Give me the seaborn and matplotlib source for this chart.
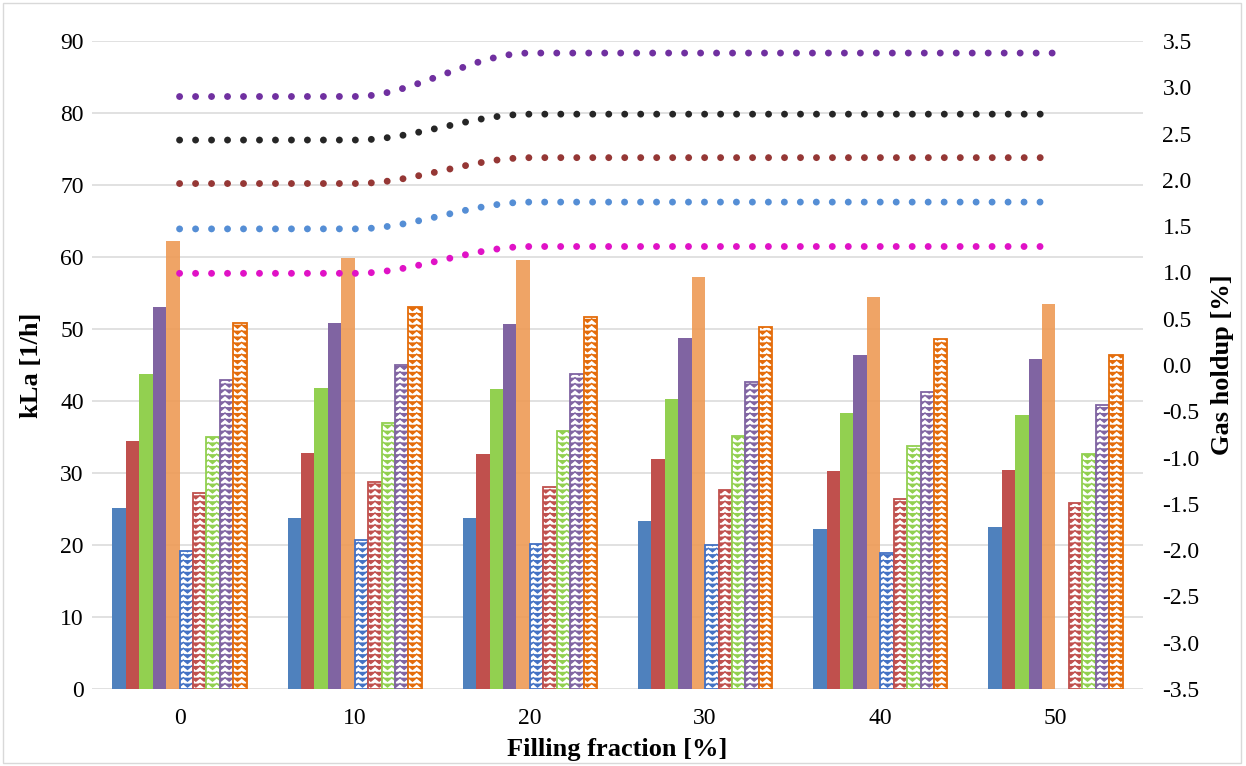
import warnings
import numpy as np
import pandas as pd
import matplotlib
matplotlib.use("Agg")
import matplotlib.pyplot as plt
import matplotlib.hatch as mhatch
from matplotlib.path import Path
from matplotlib.ticker import FormatStrFormatter
from matplotlib.patches import Rectangle
import seaborn as sns

warnings.filterwarnings("ignore")

# ---------------- data ----------------
filling = ["0", "10", "20", "30", "40", "50"]

# kLa [1/h], first set (solid bars)
kla_a1 = [25.2, 23.8, 23.8, 23.4, 22.2, 22.5]
kla_a2 = [34.4, 32.8, 32.7, 31.9, 30.3, 30.4]
kla_a3 = [43.7, 41.8, 41.7, 40.3, 38.4, 38.1]
kla_a4 = [53.0, 50.9, 50.7, 48.8, 46.4, 45.9]
kla_a5 = [62.2, 59.9, 59.6, 57.2, 54.5, 53.5]

# kLa [1/h], second set (patterned bars)
kla_b1 = [19.2, 20.7, 20.2, 20.0, 18.9, np.nan]
kla_b2 = [27.2, 28.8, 28.0, 27.6, 26.4, 25.8]
kla_b3 = [35.0, 37.0, 35.9, 35.2, 33.8, 32.6]
kla_b4 = [42.9, 45.0, 43.7, 42.7, 41.2, 39.5]
kla_b5 = [50.9, 53.1, 51.6, 50.3, 48.6, 46.4]

# gas holdup [%]
holdup_1 = [2.90, 2.90, 3.37, 3.37, 3.37, 3.37]
holdup_2 = [2.43, 2.43, 2.71, 2.71, 2.71, 2.71]
holdup_3 = [1.96, 1.96, 2.24, 2.24, 2.24, 2.24]
holdup_4 = [1.47, 1.47, 1.76, 1.76, 1.76, 1.76]
holdup_5 = [0.99, 0.99, 1.28, 1.28, 1.28, 1.28]

series_a = ["A1", "A2", "A3", "A4", "A5"]
series_b = ["B1", "B2", "B3", "B4", "B5"]
values_a = [kla_a1, kla_a2, kla_a3, kla_a4, kla_a5]
values_b = [kla_b1, kla_b2, kla_b3, kla_b4, kla_b5]
holdups = [holdup_1, holdup_2, holdup_3, holdup_4, holdup_5]

solid_colors = ["#4F81BD", "#C0504D", "#92D050", "#8064A2", "#EE9A55"]
pattern_colors = ["#4472C4", "#C0504D", "#92D050", "#8064A2", "#E46C0A"]
line_colors = ["#7030A0", "#262626", "#953735", "#558ED5", "#E012C6"]


# ---------------- zig-zag hatch ----------------
class ZigZagHatch(mhatch.HatchPatternBase):
    def __init__(self, hatch, density):
        n = hatch.count("z")
        self.rows = 17 * n
        self.cols = 12
        self.num_vertices = self.rows * (2 * self.cols + 1)

    def set_vertices_and_codes(self, vertices, codes):
        k = 0
        amp = 0.0175
        for r in range(self.rows):
            y = (r + 0.5) / self.rows
            for j in range(2 * self.cols + 1):
                x = j / (2 * self.cols)
                vertices[k] = (x, y + (amp if j % 2 == 0 else -amp))
                codes[k] = Path.MOVETO if j == 0 else Path.LINETO
                k += 1


mhatch._hatch_types.append(ZigZagHatch)


def smooth_curve(xs, ys, n=40):
    """Shape-preserving cubic Hermite curve through every point."""
    xs = np.asarray(xs, float)
    ys = np.asarray(ys, float)
    h = np.diff(xs)
    delta = np.diff(ys) / h
    m = len(xs)
    d = np.zeros(m)
    for k in range(1, m - 1):
        if delta[k - 1] * delta[k] > 0:
            d[k] = 2.0 / (1.0 / delta[k - 1] + 1.0 / delta[k])
    d[0] = 0.0 if delta[0] == 0 else delta[0]
    d[-1] = 0.0 if delta[-1] == 0 else delta[-1]
    px, py = [], []
    for i in range(m - 1):
        t = np.linspace(0, 1, n, endpoint=(i == m - 2))
        h00 = 2 * t ** 3 - 3 * t ** 2 + 1
        h10 = t ** 3 - 2 * t ** 2 + t
        h01 = -2 * t ** 3 + 3 * t ** 2
        h11 = t ** 3 - t ** 2
        px.append(xs[i] + t * h[i])
        py.append(h00 * ys[i] + h10 * h[i] * d[i] + h01 * ys[i + 1] + h11 * h[i] * d[i + 1])
    return np.concatenate(px), np.concatenate(py)


# ---------------- styling ----------------
sns.set_theme(style="white")
plt.rcParams["font.family"] = ["Liberation Serif", "DejaVu Serif"]
plt.rcParams["axes.unicode_minus"] = False
plt.rcParams["hatch.linewidth"] = 1.0
plt.rcParams["text.color"] = "black"
plt.rcParams["axes.labelcolor"] = "black"

W, H, DPI = 1246, 766, 100
fig = plt.figure(figsize=(W / DPI, H / DPI), dpi=DPI)
fig.patch.set_facecolor("white")

x0, x1, y0, y1 = 92, 1143, 41, 689
ax = fig.add_axes([x0 / W, 1 - y1 / H, (x1 - x0) / W, (y1 - y0) / H])

rows = []
for name, vals in zip(series_a + series_b, values_a + values_b):
    for f, v in zip(filling, vals):
        rows.append({"filling": f, "series": name, "kla": v})
df = pd.DataFrame(rows)

sns.barplot(data=df, x="filling", y="kla", hue="series", order=filling,
            hue_order=series_a + series_b, width=0.766, gap=0, errorbar=None,
            legend=False, ax=ax)

for idx, cont in enumerate(ax.containers):
    for bar in cont:
        if idx < 5:
            bar.set_facecolor(solid_colors[idx])
            bar.set_edgecolor("none")
            bar.set_linewidth(0)
            if idx == 4:
                bar.set_alpha(0.9)
        else:
            c = pattern_colors[idx - 5]
            bar.set_facecolor("white")
            bar.set_edgecolor(c)
            bar.set_linewidth(1.3)
            bar.set_hatch("z")
            if hasattr(bar, "set_hatchcolor"):
                bar.set_hatchcolor(c)

ax.set_xlim(-0.5, 5.5)
ax.set_ylim(0, 90)
ax.set_yticks(np.arange(0, 91, 10))
ax.set_axisbelow(True)
ax.grid(axis="y", color="#D9D9D9", linewidth=1.1)
ax.grid(axis="x", visible=False)
for s in ax.spines.values():
    s.set_visible(False)
ax.tick_params(axis="both", length=0, labelsize=17, colors="black")
ax.tick_params(axis="x", pad=14)
ax.tick_params(axis="y", pad=6)
ax.set_xlabel("Filling fraction [%]", fontsize=19, fontweight="bold", labelpad=6, color="black")
ax.set_ylabel("kLa [1/h]", fontsize=19, fontweight="bold", labelpad=12, color="black")

# ---------------- gas holdup (secondary axis) ----------------
ax2 = ax.twinx()
ax2.set_ylim(-3.5, 3.5)
ax2.set_yticks(np.arange(-3.5, 3.51, 0.5))
ax2.yaxis.set_major_formatter(FormatStrFormatter("%.1f"))
ax2.grid(False)
for s in ax2.spines.values():
    s.set_visible(False)
ax2.tick_params(axis="y", length=0, labelsize=17, pad=14, colors="black")
ax2.set_ylabel("Gas holdup [%]", fontsize=19, fontweight="bold", labelpad=8, color="black")

xpos = np.arange(len(filling))
for vals, col in zip(holdups, line_colors):
    sx, sy = smooth_curve(xpos, vals)
    ax2.plot(sx, sy, color=col, linewidth=5.0, linestyle=(0, (0.001, 2.3)),
             dash_capstyle="round", solid_capstyle="round")

# chart area border
fig.patches.append(Rectangle((3 / W, 3 / H), 1238 / W, 760 / H, transform=fig.transFigure,
                             fill=False, edgecolor="#D9D9D9", linewidth=1.0))

fig.savefig("out.png", dpi=DPI, facecolor="white")
